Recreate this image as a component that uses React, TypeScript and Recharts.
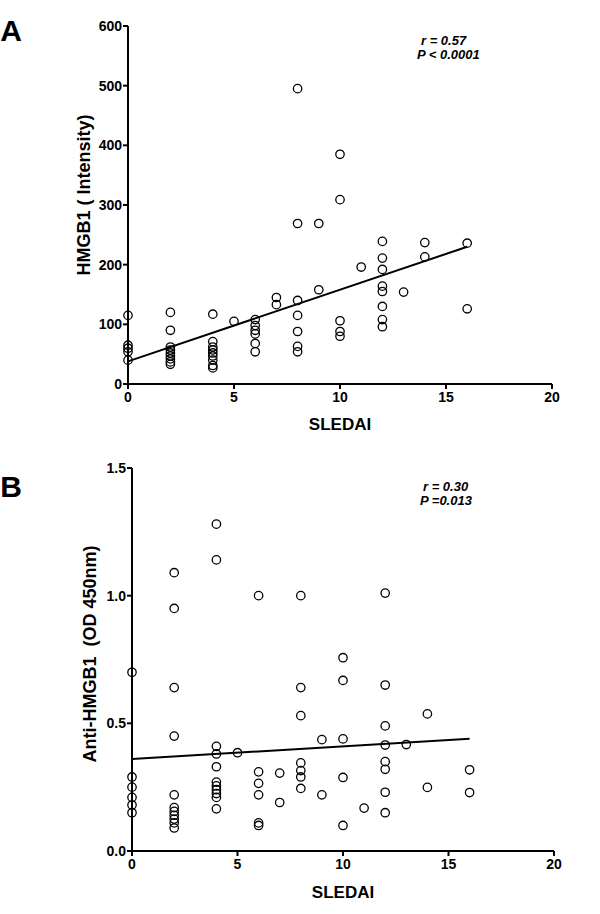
import React from 'react';
import { ScatterChart, Scatter, XAxis, YAxis, ReferenceLine } from 'recharts';

const FONT = '"Liberation Sans", Arial, sans-serif';

// SLEDAI values (x) with HMGB1 intensity (y), panel A
const sledaiA = [
  0, 0, 0, 0, 0,
  2, 2, 2, 2, 2, 2, 2, 2, 2,
  4, 4, 4, 4, 4, 4, 4, 4, 4,
  5,
  6, 6, 6, 6, 6, 6,
  7, 7,
  8, 8, 8, 8, 8, 8, 8,
  9, 9,
  10, 10, 10, 10, 10,
  11,
  12, 12, 12, 12, 12, 12, 12, 12,
  13,
  14, 14,
  16, 16,
];
const hmgb1 = [
  115, 65, 60, 54, 40,
  120, 90, 62, 57, 52, 47, 42, 37, 33,
  117, 71, 62, 57, 52, 47, 40, 31, 27,
  105,
  108, 98, 90, 84, 68, 54,
  145, 133,
  495, 269, 140, 115, 88, 63, 54,
  269, 158,
  385, 309, 106, 88, 80,
  196,
  239, 211, 192, 164, 155, 130, 108, 96,
  154,
  237, 213,
  236, 126,
];

// SLEDAI values (x) with anti-HMGB1 OD 450nm (y), panel B
const sledaiB = [
  0, 0, 0, 0, 0, 0,
  2, 2, 2, 2, 2, 2, 2, 2, 2, 2, 2,
  4, 4, 4, 4, 4, 4, 4, 4, 4, 4, 4,
  5,
  6, 6, 6, 6, 6, 6,
  7, 7,
  8, 8, 8, 8, 8, 8, 8,
  9, 9,
  10, 10, 10, 10, 10,
  11,
  12, 12, 12, 12, 12, 12, 12, 12,
  13,
  14, 14,
  16, 16,
];
const antiHmgb1 = [
  0.70, 0.29, 0.25, 0.21, 0.18, 0.15,
  1.09, 0.95, 0.64, 0.45, 0.22, 0.17, 0.155, 0.14, 0.125, 0.11, 0.09,
  1.28, 1.14, 0.41, 0.38, 0.33, 0.27, 0.255, 0.24, 0.225, 0.21, 0.165,
  0.385,
  1.0, 0.31, 0.265, 0.22, 0.11, 0.10,
  0.305, 0.19,
  1.0, 0.64, 0.53, 0.345, 0.315, 0.29, 0.245,
  0.436, 0.22,
  0.757, 0.668, 0.439, 0.288, 0.10,
  0.168,
  1.01, 0.65, 0.49, 0.415, 0.35, 0.32, 0.23, 0.15,
  0.417,
  0.537, 0.249,
  0.318, 0.229,
];

const xTicks = [0, 5, 10, 15, 20];
const yTicksA = [0, 100, 200, 300, 400, 500, 600];
const yTicksB = [0, 0.5, 1.0, 1.5];

// fitted lines (start / end)
const fitA = [{ x: 0, y: 38 }, { x: 16, y: 230 }];
const fitB = [{ x: 0, y: 0.36 }, { x: 16, y: 0.44 }];

const pointsA = sledaiA.map((x, i) => ({ x, y: hmgb1[i] }));
const pointsB = sledaiB.map((x, i) => ({ x, y: antiHmgb1[i] }));

const OpenCircle = (props: any) => (
  <circle cx={props.cx} cy={props.cy} r={4.2} fill="none" stroke="#000" strokeWidth={1.3} />
);

const tickStyle = { fill: '#000', fontSize: 14, fontWeight: 700, fontFamily: FONT };
const axisStroke = { stroke: '#000', strokeWidth: 2 };

const Text = ({ x, y, size, italic, rotate, children }: any) => (
  <div
    style={{
      position: 'absolute',
      left: x,
      top: y,
      transform: `translate(-50%, -50%)${rotate ? ' rotate(-90deg)' : ''}`,
      fontFamily: FONT,
      fontWeight: 700,
      fontStyle: italic ? 'italic' : 'normal',
      fontSize: size,
      lineHeight: 1,
      whiteSpace: 'pre',
      color: '#000',
    }}
  >
    {children}
  </div>
);

const App: React.FC = () => {
  return (
    <div style={{ position: 'absolute', left: 0, top: 0, width: 600, height: 914, background: '#fff' }}>
      {/* Panel A */}
      <div style={{ position: 'absolute', left: 0, top: 0 }}>
        <ScatterChart width={600} height={440} margin={{ top: 26, right: 48, bottom: 0, left: 0 }}>
          <XAxis type="number" dataKey="x" domain={[0, 20]} ticks={xTicks} height={56}
            tick={tickStyle} tickLine={axisStroke} axisLine={axisStroke} tickSize={5} tickMargin={3} />
          <YAxis type="number" dataKey="y" domain={[0, 600]} ticks={yTicksA} width={128}
            tick={tickStyle} tickLine={axisStroke} axisLine={axisStroke} tickSize={5} tickMargin={1} />
          <ReferenceLine segment={fitA} stroke="#000" strokeWidth={2} />
          <Scatter data={pointsA} shape={OpenCircle} isAnimationActive={false} />
        </ScatterChart>
      </div>

      {/* Panel B */}
      <div style={{ position: 'absolute', left: 0, top: 440 }}>
        <ScatterChart width={600} height={474} margin={{ top: 28, right: 46, bottom: 0, left: 0 }}>
          <XAxis type="number" dataKey="x" domain={[0, 20]} ticks={xTicks} height={63}
            tick={tickStyle} tickLine={axisStroke} axisLine={axisStroke} tickSize={5} tickMargin={3} />
          <YAxis type="number" dataKey="y" domain={[0, 1.5]} ticks={yTicksB} width={132}
            tickFormatter={(v: number) => v.toFixed(1)}
            tick={tickStyle} tickLine={axisStroke} axisLine={axisStroke} tickSize={5} tickMargin={1} />
          <ReferenceLine segment={fitB} stroke="#000" strokeWidth={2} />
          <Scatter data={pointsB} shape={OpenCircle} isAnimationActive={false} />
        </ScatterChart>
      </div>

      <Text x={11} y={31} size={30}>A</Text>
      <Text x={11} y={487} size={30}>B</Text>

      <Text x={84} y={195} size={18} rotate>HMGB1 ( Intensity)</Text>
      <Text x={90} y={654} size={18} rotate>{'Anti-HMGB1  (OD 450nm)'}</Text>

      <Text x={340} y={424} size={17}>SLEDAI</Text>
      <Text x={343} y={892} size={17}>SLEDAI</Text>

      <div style={{ position: 'absolute', left: 417, top: 34, fontFamily: FONT, fontWeight: 700, fontStyle: 'italic', fontSize: 13, lineHeight: '14px' }}>
        <div style={{ paddingLeft: 4 }}>r = 0.57</div>
        <div>P &lt; 0.0001</div>
      </div>
      <div style={{ position: 'absolute', left: 420, top: 480, fontFamily: FONT, fontWeight: 700, fontStyle: 'italic', fontSize: 13, lineHeight: '14px' }}>
        <div style={{ paddingLeft: 3 }}>r = 0.30</div>
        <div>P =0.013</div>
      </div>
    </div>
  );
};

export default App;
